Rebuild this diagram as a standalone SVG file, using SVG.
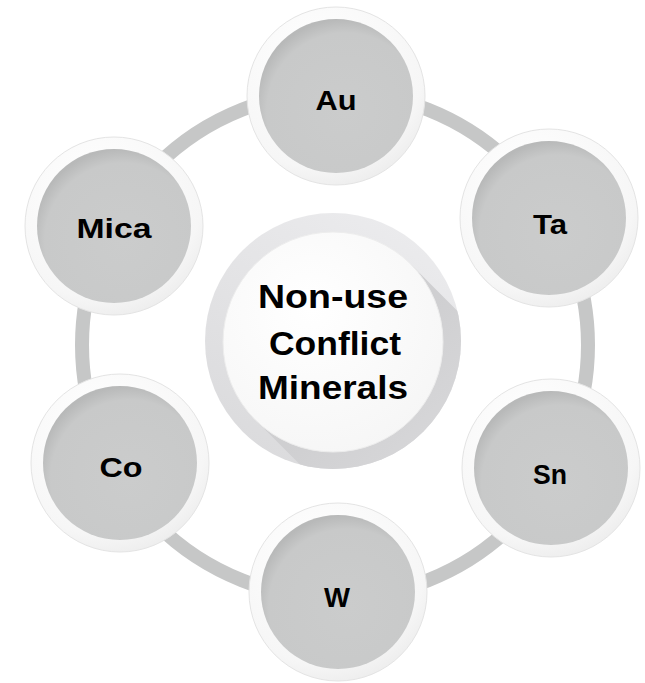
<svg xmlns="http://www.w3.org/2000/svg" width="645" height="683" viewBox="0 0 645 683">
<style>
.lbl{font-family:"Liberation Sans",Arial,sans-serif;font-weight:bold;font-size:28px;fill:#000;text-anchor:middle}
.ctr{font-family:"Liberation Sans",Arial,sans-serif;font-weight:bold;font-size:34px;fill:#000;text-anchor:middle}
.ring{fill:url(#gRing);stroke:#e4e4e4;stroke-width:1}
.disk{fill:url(#gDisk)}
</style>
<defs>
<radialGradient id="gRing" cx="0.4" cy="0.3" r="0.75">
<stop offset="0" stop-color="#ffffff"/>
<stop offset="0.8" stop-color="#f6f6f6"/>
<stop offset="1" stop-color="#ececec"/>
</radialGradient>
<radialGradient id="gDisk" cx="0.56" cy="0.6" r="0.6">
<stop offset="0" stop-color="#cbcccc"/>
<stop offset="0.85" stop-color="#c8c9c9"/>
<stop offset="1" stop-color="#b8b9b9"/>
</radialGradient>
<linearGradient id="gOuter" x1="0.8" y1="0" x2="0.2" y2="1">
<stop offset="0" stop-color="#ececee"/>
<stop offset="1" stop-color="#dadadc"/>
</linearGradient>
<linearGradient id="gShadow" x1="0.3" y1="0.3" x2="0.8" y2="0.8">
<stop offset="0" stop-color="#cfcfd1"/>
<stop offset="1" stop-color="#e2e2e4"/>
</linearGradient>
<radialGradient id="gWhite" cx="0.4" cy="0.35" r="0.7">
<stop offset="0" stop-color="#ffffff"/>
<stop offset="1" stop-color="#f6f6f6"/>
</radialGradient>
<clipPath id="cOuter"><circle cx="333" cy="341" r="128"/></clipPath>
</defs>
<g id="connectors">
<circle cx="335" cy="345" r="253" fill="none" stroke="#c6c7c7" stroke-width="14"/>
</g>
<g id="center">
<circle cx="333" cy="341" r="128" fill="url(#gOuter)"/>
<polygon clip-path="url(#cOuter)" points="410.8,264.2 610.8,464.2 455.2,619.8 255.2,419.8" fill="url(#gShadow)"/>
<circle cx="333" cy="342" r="110" fill="url(#gWhite)" stroke="#ededed" stroke-width="1"/>
<text class="ctr" x="333" y="308" textLength="150" lengthAdjust="spacingAndGlyphs">Non-use</text>
<text class="ctr" x="335" y="355" textLength="132" lengthAdjust="spacingAndGlyphs">Conflict</text>
<text class="ctr" x="333" y="399" textLength="150" lengthAdjust="spacingAndGlyphs">Minerals</text>
</g>
<g id="node-au">
<circle class="ring" cx="336" cy="96" r="89"/>
<circle class="disk" cx="336" cy="96" r="77"/>
<text class="lbl" x="336" y="110" textLength="41" lengthAdjust="spacingAndGlyphs">Au</text>
</g>
<g id="node-ta">
<circle class="ring" cx="549" cy="218" r="89"/>
<circle class="disk" cx="549" cy="218" r="77"/>
<text class="lbl" x="550" y="234" textLength="34" lengthAdjust="spacingAndGlyphs">Ta</text>
</g>
<g id="node-sn">
<circle class="ring" cx="551" cy="468" r="89"/>
<circle class="disk" cx="551" cy="468" r="77"/>
<text class="lbl" x="550" y="484" textLength="34" lengthAdjust="spacingAndGlyphs">Sn</text>
</g>
<g id="node-w">
<circle class="ring" cx="338" cy="592" r="89"/>
<circle class="disk" cx="338" cy="592" r="77"/>
<text class="lbl" x="337" y="607" textLength="26" lengthAdjust="spacingAndGlyphs">W</text>
</g>
<g id="node-co">
<circle class="ring" cx="120" cy="463" r="89"/>
<circle class="disk" cx="120" cy="463" r="77"/>
<text class="lbl" x="121" y="477" textLength="43" lengthAdjust="spacingAndGlyphs">Co</text>
</g>
<g id="node-mica">
<circle class="ring" cx="114" cy="226" r="89"/>
<circle class="disk" cx="114" cy="226" r="77"/>
<text class="lbl" x="114" y="238" textLength="75" lengthAdjust="spacingAndGlyphs">Mica</text>
</g>
</svg>
